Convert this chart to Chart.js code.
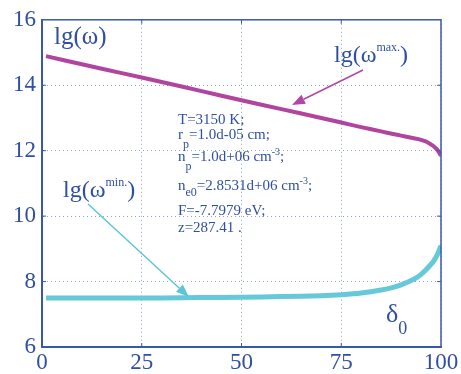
<!DOCTYPE html>
<html><head><meta charset="utf-8">
<script src="https://cdn.jsdelivr.net/npm/chart.js@4"></script>
<style>html,body{margin:0;padding:0;background:#fff}#wrap{width:461px;height:374px}</style>
</head><body><div id="wrap"><canvas id="c" width="461" height="374"></canvas></div>
<script>
const delta = [1, 10, 20, 30, 40, 50, 60, 70, 75, 80, 85, 88, 90, 92, 94, 95, 96, 97, 98, 99, 100];
const lgMax = [14.89, 14.64, 14.37, 14.10, 13.82, 13.54, 13.27, 13.00, 12.86, 12.72, 12.59, 12.51, 12.46, 12.41, 12.36, 12.33, 12.29, 12.23, 12.15, 12.04, 11.85];
const lgMin = [7.50, 7.50, 7.50, 7.50, 7.51, 7.52, 7.54, 7.57, 7.60, 7.65, 7.74, 7.82, 7.90, 8.00, 8.13, 8.22, 8.33, 8.46, 8.60, 8.80, 9.10];
const xTicks = [0, 25, 50, 75, 100];
const yTicks = [6, 8, 10, 12, 14, 16];

const BLUE = '#2f4fa3';
const SERIF = '"Liberation Serif", "DejaVu Serif", serif';

const deco = {
  id: 'deco',
  afterDraw(chart) {
    const ctx = chart.ctx, a = chart.chartArea;
    const xs = chart.scales.x, ys = chart.scales.y;
    const X = v => xs.getPixelForValue(v), Y = v => ys.getPixelForValue(v);
    ctx.save();
    ctx.strokeStyle = '#3a59a8'; ctx.lineWidth = 1.5;
    ctx.strokeRect(a.left, a.top, a.right - a.left, a.bottom - a.top);
    ctx.lineWidth = 1;
    xTicks.slice(1, -1).forEach(v => {
      ctx.beginPath(); ctx.moveTo(X(v), a.top); ctx.lineTo(X(v), a.top + 4);
      ctx.moveTo(X(v), a.bottom); ctx.lineTo(X(v), a.bottom - 4); ctx.stroke();
    });
    yTicks.slice(1, -1).forEach(v => {
      ctx.beginPath(); ctx.moveTo(a.left, Y(v)); ctx.lineTo(a.left + 4, Y(v));
      ctx.moveTo(a.right, Y(v)); ctx.lineTo(a.right - 4, Y(v)); ctx.stroke();
    });

    function arrow(x1, y1, x2, y2, col) {
      ctx.strokeStyle = col; ctx.fillStyle = col; ctx.lineWidth = 1.5;
      const ang = Math.atan2(y2 - y1, x2 - x1), L = 13, W = 5;
      const bx = x2 - L * Math.cos(ang), by = y2 - L * Math.sin(ang);
      ctx.beginPath(); ctx.moveTo(x1, y1); ctx.lineTo(bx, by); ctx.stroke();
      ctx.beginPath(); ctx.moveTo(x2, y2);
      ctx.lineTo(bx + W * Math.sin(ang), by - W * Math.cos(ang));
      ctx.lineTo(bx - W * Math.sin(ang), by + W * Math.cos(ang));
      ctx.closePath(); ctx.fill();
    }
    arrow(363, 70, 292, 105, '#b444a8');
    arrow(88, 204, 189, 297, '#5cc6d8');

    ctx.fillStyle = BLUE; ctx.textBaseline = 'alphabetic'; ctx.textAlign = 'left';
    function sup(parts, x, y) {
      let cx = x;
      parts.forEach(p => {
        ctx.font = p[1] + 'px ' + SERIF;
        ctx.fillText(p[0], cx, y + (p[2] || 0));
        cx += ctx.measureText(p[0]).width;
      });
    }
    sup([['lg(ω)', 25]], 54, 44);
    sup([['lg(ω', 24], ['max.', 12, -11], [')', 24]], 334, 62);
    sup([['lg(ω', 24], ['min.', 12, -11], [')', 24]], 63, 197);
    sup([['δ', 26], ['0', 18, 12]], 386, 322);

    const fs = 15;
    sup([['T=3150 K;', fs]], 178, 124);
    sup([['r', fs], ['p', 12, 9], ['=1.0d-05 cm;', fs]], 178, 139);
    sup([['n', fs], ['p', 12, 9], ['=1.0d+06 cm', fs], ['-3', 10, -6], [';', fs]], 178, 161);
    sup([['n', fs], ['e0', 12, 6], ['=2.8531d+06 cm', fs], ['-3', 10, -6], [';', fs]], 178, 190);
    sup([['F=-7.7979 eV;', fs]], 178, 215);
    sup([['z=287.41 .', fs]], 178, 232);
    ctx.restore();
  }
};

new Chart(document.getElementById('c'), {
  type: 'line',
  data: {
    datasets: [
      { data: delta.map((d, i) => ({x: d, y: lgMax[i]})), borderColor: '#b0449e', borderWidth: 4, pointRadius: 0, tension: 0.3, fill: false },
      { data: delta.map((d, i) => ({x: d, y: lgMin[i]})), borderColor: '#66c9d9', borderWidth: 5, pointRadius: 0, tension: 0.3, fill: false }
    ]
  },
  options: {
    responsive: false, animation: false, devicePixelRatio: 1,
    layout: { padding: { top: 16, right: 20, left: 0, bottom: 0 } },
    plugins: { legend: { display: false }, tooltip: { enabled: false } },
    scales: {
      x: {
        type: 'linear', min: 0, max: 100,
        afterBuildTicks: s => { s.ticks = xTicks.map(v => ({value: v})); },
        afterFit: s => { s.height = 27; },
        ticks: { color: BLUE, font: { family: SERIF, size: 23 }, padding: 2, maxRotation: 0, autoSkip: false },
        grid: { color: '#8fa2d6', lineWidth: 1, drawTicks: false },
        border: { color: '#3a59a8', width: 2, dash: [1, 3] }
      },
      y: {
        type: 'linear', min: 6, max: 16,
        afterBuildTicks: s => { s.ticks = yTicks.map(v => ({value: v})); },
        afterFit: s => { s.width = 42; },
        ticks: { color: BLUE, font: { family: SERIF, size: 23 }, padding: 6, autoSkip: false },
        grid: { color: '#8fa2d6', lineWidth: 1, drawTicks: false },
        border: { color: '#3a59a8', width: 2, dash: [1, 3] }
      }
    }
  },
  plugins: [deco]
});
</script></body></html>
